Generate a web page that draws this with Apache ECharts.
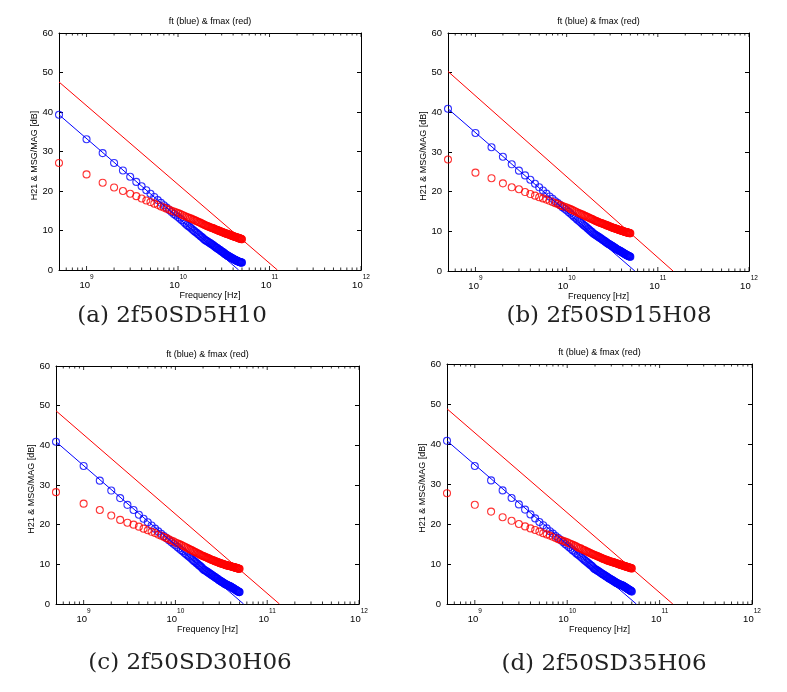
<!DOCTYPE html>
<html>
<head>
<meta charset="utf-8">
<script src="https://cdn.jsdelivr.net/npm/echarts@6/dist/echarts.min.js"></script>
<style>html,body{margin:0;padding:0;background:#fff}#c{width:787px;height:692px}</style>
</head>
<body>
<div id="c"></div>
<script>
// ---- data (frequency in GHz, gains in dB) ----
const FREQ_GHZ = [0.5,1,1.5,2,2.5,3,3.5,4,4.5,5,5.5,6,6.5,7,7.5,8,8.5,9,9.5,10,10.5,11,11.5,12,12.5,13,13.5,14,14.5,15,15.5,16,16.5,17,17.5,18,18.5,19,19.5,20,20.5,21,21.5,22,22.5,23,23.5,24,24.5,25,25.5,26,26.5,27,27.5,28,28.5,29,29.5,30,30.5,31,31.5,32,32.5,33,33.5,34,34.5,35,35.5,36,36.5,37,37.5,38,38.5,39,39.5,40,40.5,41,41.5,42,42.5,43,43.5,44,44.5,45,45.5,46,46.5,47,47.5,48,48.5,49,49.5,50];

const H21_A = [39.3,33.1,29.6,27.1,25.2,23.6,22.3,21.2,20.2,19.3,18.5,17.7,17.0,16.4,15.8,15.2,14.7,14.2,13.8,13.4,13.0,12.6,12.2,11.8,11.4,11.1,10.8,10.5,10.2,9.9,9.6,9.4,9.1,8.9,8.6,8.4,8.2,7.9,7.7,7.5,7.4,7.2,7.1,6.9,6.8,6.6,6.5,6.3,6.2,6.0,5.9,5.7,5.6,5.5,5.3,5.2,5.1,5.0,4.8,4.7,4.6,4.5,4.4,4.2,4.1,4.0,3.9,3.8,3.7,3.6,3.5,3.4,3.4,3.3,3.2,3.1,3.0,3.0,2.9,2.8,2.8,2.7,2.6,2.6,2.5,2.4,2.4,2.3,2.3,2.2,2.2,2.1,2.1,2.0,2.0,2.0,1.9,1.9,1.9,1.9];
const MSG_A = [27.1,24.2,22.1,20.9,20.0,19.3,18.7,18.1,17.6,17.2,16.8,16.5,16.1,15.8,15.5,15.3,15.0,14.8,14.6,14.4,14.2,14.0,13.8,13.6,13.4,13.3,13.1,13.0,12.8,12.7,12.5,12.4,12.2,12.1,12.0,11.8,11.7,11.6,11.4,11.3,11.2,11.1,11.0,10.9,10.8,10.7,10.7,10.6,10.5,10.4,10.3,10.2,10.2,10.1,10.0,9.9,9.9,9.8,9.7,9.7,9.6,9.5,9.5,9.4,9.3,9.3,9.2,9.2,9.1,9.1,9.0,9.0,8.9,8.9,8.8,8.8,8.7,8.7,8.6,8.6,8.5,8.5,8.4,8.4,8.4,8.3,8.3,8.2,8.2,8.2,8.1,8.1,8.0,8.0,8.0,7.9,7.9,7.9,7.8,7.8];

const H21_B = [40.9,34.8,31.2,28.8,26.9,25.3,24.1,23.0,22.0,21.1,20.3,19.5,18.8,18.2,17.6,17.1,16.6,16.1,15.7,15.3,14.9,14.5,14.1,13.7,13.4,13.0,12.7,12.4,12.1,11.8,11.5,11.3,11.0,10.7,10.5,10.2,10.0,9.8,9.5,9.3,9.2,9.0,8.9,8.7,8.6,8.4,8.3,8.1,8.0,7.8,7.7,7.6,7.4,7.3,7.2,7.0,6.9,6.8,6.7,6.6,6.5,6.4,6.3,6.2,6.1,6.0,5.9,5.8,5.7,5.6,5.5,5.4,5.3,5.3,5.2,5.1,5.0,5.0,4.9,4.8,4.7,4.7,4.6,4.5,4.4,4.4,4.3,4.2,4.2,4.1,4.0,4.0,3.9,3.9,3.8,3.8,3.7,3.7,3.6,3.6];
const MSG_B = [28.1,24.8,23.4,22.1,21.1,20.6,19.9,19.4,19.0,18.6,18.3,18.0,17.7,17.4,17.1,16.9,16.6,16.4,16.2,16.0,15.8,15.6,15.4,15.2,15.0,14.8,14.6,14.5,14.3,14.2,14.0,13.9,13.7,13.6,13.5,13.3,13.2,13.1,13.0,12.8,12.7,12.6,12.5,12.4,12.3,12.2,12.1,12.1,12.0,11.9,11.8,11.8,11.7,11.6,11.5,11.5,11.4,11.3,11.3,11.2,11.1,11.0,11.0,10.9,10.9,10.8,10.8,10.7,10.7,10.6,10.6,10.5,10.5,10.4,10.4,10.3,10.3,10.3,10.2,10.2,10.1,10.1,10.0,10.0,10.0,9.9,9.9,9.9,9.8,9.8,9.8,9.7,9.7,9.7,9.6,9.6,9.6,9.5,9.5,9.5];

const H21_C = [40.9,34.8,31.1,28.6,26.7,25.0,23.7,22.5,21.5,20.6,19.8,19.0,18.3,17.7,17.1,16.6,16.1,15.6,15.2,14.8,14.4,14.0,13.6,13.3,12.9,12.6,12.3,12.0,11.7,11.4,11.1,10.8,10.6,10.3,10.1,9.8,9.6,9.4,9.1,8.8,8.6,8.5,8.3,8.2,8.0,7.9,7.7,7.6,7.4,7.3,7.2,7.0,6.9,6.8,6.6,6.5,6.4,6.3,6.1,6.0,5.9,5.8,5.7,5.6,5.5,5.4,5.3,5.2,5.1,5.0,4.9,4.9,4.8,4.7,4.7,4.6,4.5,4.5,4.4,4.4,4.3,4.2,4.1,4.1,4.0,3.9,3.8,3.8,3.7,3.6,3.5,3.5,3.4,3.3,3.3,3.2,3.1,3.1,3.0,3.0];
const MSG_C = [28.2,25.3,23.7,22.3,21.2,20.5,20.0,19.5,19.0,18.6,18.2,17.9,17.5,17.2,16.9,16.6,16.3,16.0,15.8,15.5,15.3,15.1,14.9,14.7,14.5,14.3,14.1,13.9,13.7,13.6,13.4,13.2,13.1,12.9,12.8,12.6,12.5,12.3,12.2,12.1,12.0,11.9,11.8,11.7,11.6,11.5,11.4,11.3,11.2,11.1,11.0,11.0,10.9,10.8,10.7,10.7,10.6,10.5,10.5,10.4,10.3,10.3,10.2,10.2,10.1,10.1,10.0,10.0,9.9,9.9,9.8,9.8,9.7,9.7,9.7,9.6,9.6,9.6,9.5,9.5,9.5,9.4,9.4,9.4,9.3,9.3,9.3,9.2,9.2,9.2,9.1,9.1,9.1,9.0,9.0,9.0,8.9,8.9,8.9,8.9];

const H21_D = [40.8,34.5,30.9,28.4,26.5,24.9,23.6,22.4,21.4,20.5,19.7,18.9,18.2,17.6,17.0,16.5,16.0,15.5,15.0,14.6,14.2,13.8,13.4,13.1,12.7,12.4,12.1,11.8,11.5,11.2,10.9,10.7,10.4,10.2,9.9,9.7,9.5,9.2,8.9,8.7,8.6,8.4,8.3,8.1,8.0,7.8,7.7,7.5,7.4,7.3,7.1,7.0,6.9,6.8,6.6,6.5,6.4,6.3,6.2,6.1,6.0,5.9,5.8,5.7,5.6,5.5,5.4,5.3,5.2,5.2,5.1,5.0,4.9,4.9,4.8,4.8,4.7,4.7,4.6,4.6,4.5,4.4,4.3,4.3,4.2,4.1,4.0,4.0,3.9,3.8,3.7,3.7,3.6,3.5,3.5,3.4,3.3,3.3,3.2,3.1];
const MSG_D = [27.7,24.8,23.1,21.7,20.8,20.0,19.4,18.9,18.5,18.1,17.7,17.4,17.1,16.8,16.5,16.2,16.0,15.8,15.6,15.4,15.2,15.0,14.8,14.6,14.4,14.2,14.0,13.9,13.7,13.5,13.4,13.2,13.1,12.9,12.8,12.7,12.5,12.4,12.3,12.2,12.1,12.0,11.9,11.8,11.7,11.6,11.5,11.4,11.3,11.2,11.2,11.1,11.0,10.9,10.9,10.8,10.7,10.7,10.6,10.6,10.5,10.5,10.4,10.4,10.3,10.3,10.2,10.2,10.1,10.1,10.0,10.0,9.9,9.9,9.8,9.8,9.7,9.7,9.7,9.6,9.6,9.5,9.5,9.5,9.4,9.4,9.3,9.3,9.3,9.2,9.2,9.2,9.1,9.1,9.1,9.0,9.0,9.0,8.9,8.9];

// -20 dB/decade fit lines: [freq GHz, dB] end points
const FT_FIT_A = [[0.5, 39.3], [46, 0]];
const FMAX_FIT_A = [[0.5, 47.6], [122, 0]];
const FT_FIT_B = [[0.5, 40.9], [56, 0]];
const FMAX_FIT_B = [[0.5, 50.3], [147, 0]];
const FT_FIT_C = [[0.5, 40.9], [55.3, 0]];
const FMAX_FIT_C = [[0.5, 48.7], [136, 0]];
const FT_FIT_D = [[0.5, 40.8], [56, 0]];
const FMAX_FIT_D = [[0.5, 48.8], [139, 0]];

// axis ticks
const X_MAJOR_TICKS = [1e9, 1e10, 1e11, 1e12];
const X_MINOR_TICKS = [6e8,7e8,8e8,9e8, 2e9,3e9,4e9,5e9,6e9,7e9,8e9,9e9, 2e10,3e10,4e10,5e10,6e10,7e10,8e10,9e10, 2e11,3e11,4e11,5e11,6e11,7e11,8e11,9e11];
const Y_TICKS = [0, 10, 20, 30, 40, 50, 60];

const TITLE = 'ft (blue) & fmax (red)';
const X_NAME = 'Frequency [Hz]';
const Y_NAME = 'H21 & MSG/MAG [dB]';
const CAPTIONS = ['(a) 2f50SD5H10', '(b) 2f50SD15H08', '(c) 2f50SD30H06', '(d) 2f50SD35H06'];

const PANEL_DATA = [
  { h21: H21_A, msg: MSG_A, ftFit: FT_FIT_A, fmaxFit: FMAX_FIT_A },
  { h21: H21_B, msg: MSG_B, ftFit: FT_FIT_B, fmaxFit: FMAX_FIT_B },
  { h21: H21_C, msg: MSG_C, ftFit: FT_FIT_C, fmaxFit: FMAX_FIT_C },
  { h21: H21_D, msg: MSG_D, ftFit: FT_FIT_D, fmaxFit: FMAX_FIT_D }
];

// ---- layout ----
const LAYOUT = [
  { left: 59, top: 33, width: 302, height: 237, cap: [172, 316] },
  { left: 448, top: 33, width: 301, height: 238, cap: [609, 316] },
  { left: 56, top: 366, width: 303, height: 238, cap: [190, 663] },
  { left: 447, top: 364, width: 305, height: 240, cap: [604, 664] }
];

const FONT = 'Liberation Sans, Arial, sans-serif';
const BLUE = '#0000ff';
const RED = '#ff0000';
const XMIN = 5e8, XMAX = 1e12;
const YMIN = 0, YMAX = 60;
const MAJOR_LEN = 4, MINOR_LEN = 2.5;

const grid = [], xAxis = [], yAxis = [], series = [], graphic = [];

LAYOUT.forEach((L, i) => {
  grid.push({ left: L.left, top: L.top, width: L.width, height: L.height, containLabel: false });
  const base = { gridIndex: i, type: 'log', logBase: 10, min: XMIN, max: XMAX, splitLine: { show: false } };
  const xIdx = xAxis.length;
  xAxis.push(Object.assign({}, base, {
    position: 'bottom',
    axisLine: { show: true, onZero: false, lineStyle: { color: '#000', width: 1 } },
    axisTick: { show: false },
    axisLabel: {
      customValues: X_MAJOR_TICKS, margin: 4,
      formatter: v => '{b|10}{s|' + Math.round(Math.log10(v)) + '}',
      rich: {
        b: { fontSize: 9.5, fontFamily: FONT, color: '#000', lineHeight: 16, verticalAlign: 'bottom' },
        s: { fontSize: 6.5, fontFamily: FONT, color: '#000', lineHeight: 8, verticalAlign: 'top' }
      }
    },
    name: X_NAME, nameLocation: 'middle', nameGap: 18,
    nameTextStyle: { fontSize: 9, fontFamily: FONT, color: '#000' }
  }));
  xAxis.push(Object.assign({}, base, {
    position: 'top',
    axisLine: { show: true, onZero: false, lineStyle: { color: '#000', width: 1 } },
    axisTick: { show: false },
    axisLabel: { show: false }
  }));

  const yIdx = yAxis.length;
  yAxis.push({
    gridIndex: i, type: 'value', min: YMIN, max: YMAX, interval: 10, position: 'left',
    splitLine: { show: false },
    axisLine: { show: true, onZero: false, lineStyle: { color: '#000', width: 1 } },
    axisTick: { show: true, inside: true, length: MAJOR_LEN, lineStyle: { color: '#000' } },
    axisLabel: { fontSize: 9.5, fontFamily: FONT, color: '#000', margin: 6,
                 formatter: v => (Y_TICKS.indexOf(v) >= 0 ? String(v) : '') },
    name: Y_NAME, nameLocation: 'middle', nameRotate: 90, nameGap: 20,
    nameTextStyle: { fontSize: 9, fontFamily: FONT, color: '#000', padding: [0, 0, 0, -8] }
  });
  yAxis.push({
    gridIndex: i, type: 'value', min: YMIN, max: YMAX, interval: 10, position: 'right',
    splitLine: { show: false },
    axisLine: { show: true, onZero: false, lineStyle: { color: '#000', width: 1 } },
    axisTick: { show: true, inside: true, length: MAJOR_LEN, lineStyle: { color: '#000' } },
    axisLabel: { show: false }
  });

  // log-axis tick marks (major + minor) on bottom and top edges, placed through the axis scale
  const tickSeries = (vals, yv, len, dir) => ({
    type: 'scatter', xAxisIndex: xIdx, yAxisIndex: yIdx, silent: true, clip: false, z: 5,
    data: vals.map(v => [v, yv]), symbol: 'rect', symbolSize: [1, len],
    symbolOffset: [0, dir * len / 2], itemStyle: { color: '#000' }
  });
  series.push(tickSeries(X_MAJOR_TICKS, YMIN, MAJOR_LEN, -1));
  series.push(tickSeries(X_MINOR_TICKS, YMIN, MINOR_LEN, -1));
  series.push(tickSeries(X_MAJOR_TICKS, YMAX, MAJOR_LEN, 1));
  series.push(tickSeries(X_MINOR_TICKS, YMAX, MINOR_LEN, 1));

  const P = PANEL_DATA[i];
  const pts = arr => FREQ_GHZ.map((f, k) => [f * 1e9, arr[k]]);
  const fit = arr => arr.map(p => [p[0] * 1e9, p[1]]);
  const scatterStyle = c => ({ color: 'rgba(0,0,0,0)', borderColor: c, borderWidth: 1.1 });

  series.push({ type: 'scatter', xAxisIndex: xIdx, yAxisIndex: yIdx, data: pts(P.h21),
    symbol: 'circle', symbolSize: 7, itemStyle: scatterStyle(BLUE), clip: false, silent: true });
  series.push({ type: 'line', xAxisIndex: xIdx, yAxisIndex: yIdx, data: fit(P.ftFit),
    showSymbol: false, lineStyle: { color: BLUE, width: 1 }, silent: true });
  series.push({ type: 'scatter', xAxisIndex: xIdx, yAxisIndex: yIdx, data: pts(P.msg),
    symbol: 'circle', symbolSize: 7, itemStyle: scatterStyle(RED), clip: false, silent: true });
  series.push({ type: 'line', xAxisIndex: xIdx, yAxisIndex: yIdx, data: fit(P.fmaxFit),
    showSymbol: false, lineStyle: { color: RED, width: 1 }, silent: true });

  graphic.push({ type: 'text', x: L.left + L.width / 2, y: L.top - 11,
    style: { text: TITLE, fontSize: 9, fontFamily: FONT, fill: '#000', textAlign: 'center', textVerticalAlign: 'middle' } });
  graphic.push({ type: 'text', x: L.cap[0], y: L.cap[1],
    style: { text: CAPTIONS[i], fontSize: 23, fontFamily: 'DejaVu Serif, Liberation Serif, serif', fill: '#222',
             textAlign: 'center', textVerticalAlign: 'middle' } });
});

const chart = echarts.init(document.getElementById('c'), null, { renderer: 'canvas' });
chart.setOption({
  animation: false,
  backgroundColor: '#fff',
  grid, xAxis, yAxis, series, graphic
});
</script>
</body>
</html>
